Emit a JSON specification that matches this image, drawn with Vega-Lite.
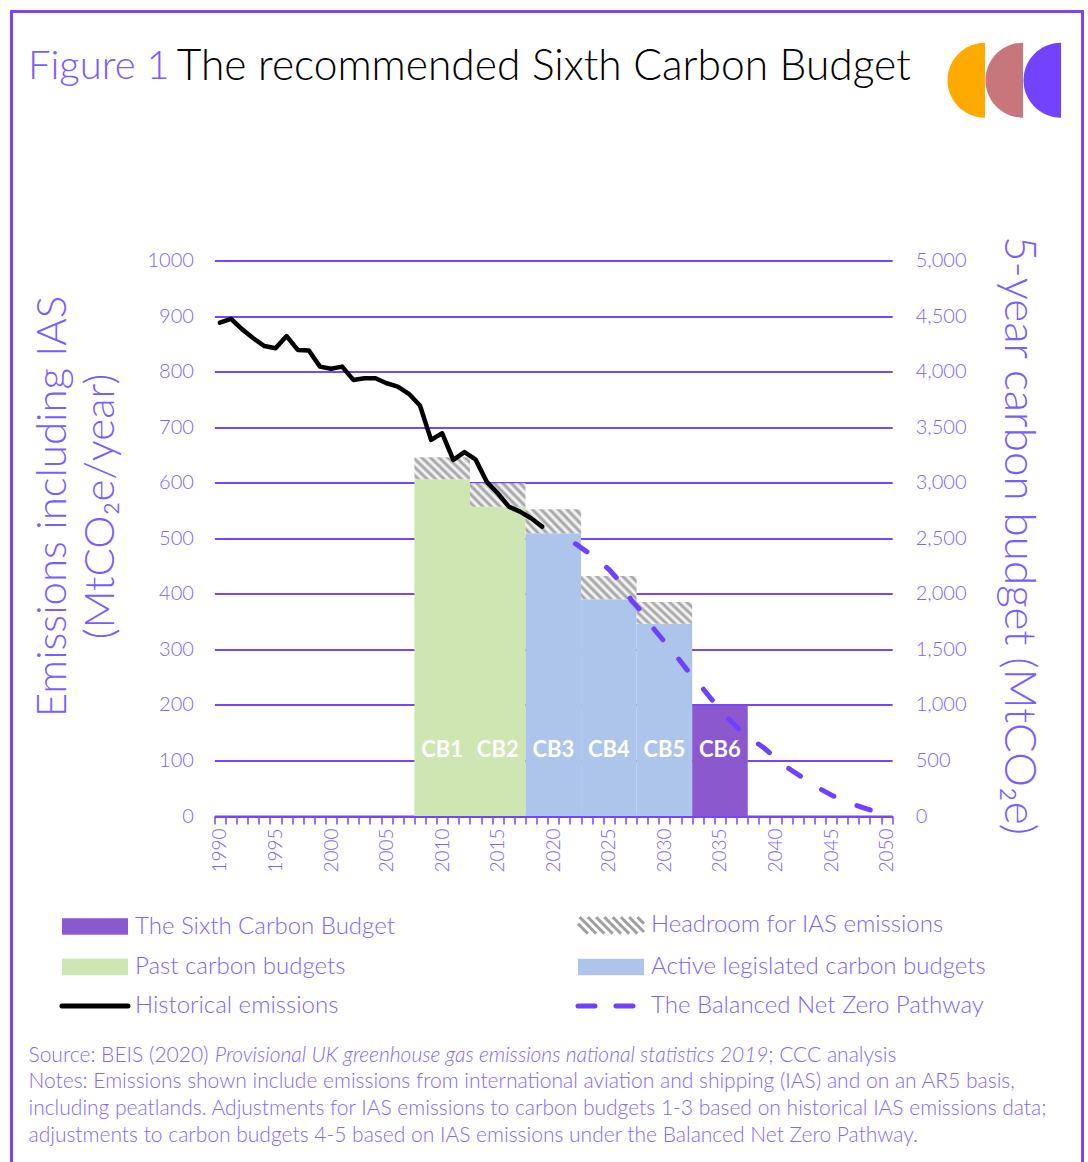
{
  "$schema": "https://vega.github.io/schema/vega-lite/v6.json",
  "width": 1071,
  "height": 1150.5,
  "autosize": {"type": "none"},
  "padding": {"left": 11.5, "top": 11.5, "right": 5.5, "bottom": 0},
  "background": "#ffffff",
  "title": {
    "text": "Figure 1",
    "subtitle": "\u200b\u00a0\u00a0\u00a0\u00a0\u00a0\u00a0\u00a0\u00a0\u00a0\u00a0\u00a0\u00a0\u00a0The recommended Sixth Carbon Budget",
    "anchor": "start",
    "frame": "group",
    "orient": "top",
    "offset": -78,
    "dx": 16.5,
    "baseline": "top",
    "font": "Lato",
    "fontSize": 40,
    "fontWeight": 300,
    "color": "#7B5CFF",
    "subtitleFont": "Lato",
    "subtitleFontSize": 42.5,
    "subtitleFontWeight": 300,
    "subtitleColor": "#000000",
    "subtitlePadding": -41
  },
  "datasets": {
    "budgets": [
      {"budget": "CB1", "series": "Past carbon budgets", "start": 2007.5, "end": 2012.5, "mid": 2010, "budget5yr": 3030, "withIAS": 3230},
      {"budget": "CB2", "series": "Past carbon budgets", "start": 2012.5, "end": 2017.5, "mid": 2015, "budget5yr": 2784, "withIAS": 2995},
      {"budget": "CB3", "series": "Active legislated carbon budgets", "start": 2017.5, "end": 2022.5, "mid": 2020, "budget5yr": 2544, "withIAS": 2760},
      {"budget": "CB4", "series": "Active legislated carbon budgets", "start": 2022.5, "end": 2027.5, "mid": 2025, "budget5yr": 1950, "withIAS": 2160},
      {"budget": "CB5", "series": "Active legislated carbon budgets", "start": 2027.5, "end": 2032.5, "mid": 2030, "budget5yr": 1730, "withIAS": 1926},
      {"budget": "CB6", "series": "The Sixth Carbon Budget", "start": 2032.5, "end": 2037.5, "mid": 2035, "budget5yr": 990, "withIAS": null}
    ],
    "emissions": [
      {"year": 1990, "value": 888, "series": "Historical emissions"},
      {"year": 1991, "value": 895, "series": "Historical emissions"},
      {"year": 1992, "value": 876, "series": "Historical emissions"},
      {"year": 1993, "value": 860, "series": "Historical emissions"},
      {"year": 1994, "value": 846, "series": "Historical emissions"},
      {"year": 1995, "value": 842, "series": "Historical emissions"},
      {"year": 1996, "value": 864, "series": "Historical emissions"},
      {"year": 1997, "value": 839, "series": "Historical emissions"},
      {"year": 1998, "value": 838, "series": "Historical emissions"},
      {"year": 1999, "value": 809, "series": "Historical emissions"},
      {"year": 2000, "value": 805, "series": "Historical emissions"},
      {"year": 2001, "value": 809, "series": "Historical emissions"},
      {"year": 2002, "value": 785, "series": "Historical emissions"},
      {"year": 2003, "value": 788, "series": "Historical emissions"},
      {"year": 2004, "value": 788, "series": "Historical emissions"},
      {"year": 2005, "value": 779, "series": "Historical emissions"},
      {"year": 2006, "value": 773, "series": "Historical emissions"},
      {"year": 2007, "value": 760, "series": "Historical emissions"},
      {"year": 2008, "value": 739, "series": "Historical emissions"},
      {"year": 2009, "value": 677, "series": "Historical emissions"},
      {"year": 2010, "value": 689, "series": "Historical emissions"},
      {"year": 2011, "value": 641, "series": "Historical emissions"},
      {"year": 2012, "value": 655, "series": "Historical emissions"},
      {"year": 2013, "value": 642, "series": "Historical emissions"},
      {"year": 2014, "value": 602, "series": "Historical emissions"},
      {"year": 2015, "value": 581, "series": "Historical emissions"},
      {"year": 2016, "value": 557, "series": "Historical emissions"},
      {"year": 2017, "value": 548, "series": "Historical emissions"},
      {"year": 2018, "value": 536, "series": "Historical emissions"},
      {"year": 2019, "value": 521, "series": "Historical emissions"}
    ],
    "pathway": [
      {"year": 2022, "value": 490, "series": "The Balanced Net Zero Pathway"},
      {"year": 2023, "value": 476, "series": "The Balanced Net Zero Pathway"},
      {"year": 2024, "value": 461, "series": "The Balanced Net Zero Pathway"},
      {"year": 2025, "value": 444, "series": "The Balanced Net Zero Pathway"},
      {"year": 2026, "value": 422, "series": "The Balanced Net Zero Pathway"},
      {"year": 2027, "value": 389, "series": "The Balanced Net Zero Pathway"},
      {"year": 2028, "value": 366, "series": "The Balanced Net Zero Pathway"},
      {"year": 2029, "value": 338, "series": "The Balanced Net Zero Pathway"},
      {"year": 2030, "value": 314, "series": "The Balanced Net Zero Pathway"},
      {"year": 2031, "value": 290, "series": "The Balanced Net Zero Pathway"},
      {"year": 2032, "value": 264, "series": "The Balanced Net Zero Pathway"},
      {"year": 2033, "value": 241, "series": "The Balanced Net Zero Pathway"},
      {"year": 2034, "value": 216, "series": "The Balanced Net Zero Pathway"},
      {"year": 2035, "value": 192, "series": "The Balanced Net Zero Pathway"},
      {"year": 2036, "value": 170, "series": "The Balanced Net Zero Pathway"},
      {"year": 2037, "value": 151, "series": "The Balanced Net Zero Pathway"},
      {"year": 2038, "value": 136, "series": "The Balanced Net Zero Pathway"},
      {"year": 2039, "value": 122, "series": "The Balanced Net Zero Pathway"},
      {"year": 2040, "value": 105, "series": "The Balanced Net Zero Pathway"},
      {"year": 2041, "value": 88, "series": "The Balanced Net Zero Pathway"},
      {"year": 2042, "value": 75, "series": "The Balanced Net Zero Pathway"},
      {"year": 2043, "value": 62, "series": "The Balanced Net Zero Pathway"},
      {"year": 2044, "value": 49, "series": "The Balanced Net Zero Pathway"},
      {"year": 2045, "value": 38, "series": "The Balanced Net Zero Pathway"},
      {"year": 2046, "value": 28, "series": "The Balanced Net Zero Pathway"},
      {"year": 2047, "value": 21, "series": "The Balanced Net Zero Pathway"},
      {"year": 2048, "value": 14, "series": "The Balanced Net Zero Pathway"},
      {"year": 2049, "value": 8, "series": "The Balanced Net Zero Pathway"},
      {"year": 2050, "value": 3, "series": "The Balanced Net Zero Pathway"}
    ],
    "logo": [{"logo": "a"}, {"logo": "b"}, {"logo": "c"}]
  },
  "layer": [
    {
      "layer": [
        {
          "data": {"name": "budgets"},
          "mark": {"type": "rect"},
          "encoding": {
            "x": {
              "field": "start", "type": "quantitative",
              "scale": {"domain": [1989.5, 2050.5], "range": [202.9, 880.7], "nice": false, "zero": false},
              "axis": {"orient": "bottom", "offset": -346, "values": [1989.5, 1990.5, 1991.5, 1992.5, 1993.5, 1994.5, 1995.5, 1996.5, 1997.5, 1998.5, 1999.5, 2000.5, 2001.5, 2002.5, 2003.5, 2004.5, 2005.5, 2006.5, 2007.5, 2008.5, 2009.5, 2010.5, 2011.5, 2012.5, 2013.5, 2014.5, 2015.5, 2016.5, 2017.5, 2018.5, 2019.5, 2020.5, 2021.5, 2022.5, 2023.5, 2024.5, 2025.5, 2026.5, 2027.5, 2028.5, 2029.5, 2030.5, 2031.5, 2032.5, 2033.5, 2034.5, 2035.5, 2036.5, 2037.5, 2038.5, 2039.5, 2040.5, 2041.5, 2042.5, 2043.5, 2044.5, 2045.5, 2046.5, 2047.5, 2048.5, 2049.5, 2050.5], "labelExpr": "(datum.value + 0.5) % 5 === 0 ? '' + (datum.value + 0.5) : ''", "labelOffset": 5.56, "labelAngle": 270, "labelAlign": "right", "labelBaseline": "middle", "labelOverlap": false, "labelFlush": false, "labelPadding": 4, "labelFontSize": 19, "labelColor": "#8063FF", "labelFont": "Lato", "labelFontWeight": 300, "grid": false, "domainColor": "#7744FF", "domainWidth": 2, "tickColor": "#7744FF", "tickWidth": 1.5, "tickSize": 8, "title": ["Source: BEIS (2020) \u2003\u2003\u2003\u2003\u2003\u2003\u2003\u2003\u2003\u2003\u2003\u2003\u2003\u2003\u2003\u2003\u2003\u2003\u2003\u2003\u2003\u2003\u2003\u2003\u2003\u2003\u2003\u2003\u2003\u2003\u2003\u2003\u2003\u00a0\u00a0\u00a0\u00a0\u00a0\u00a0; CCC analysis", "Notes: Emissions shown include emissions from international aviation and shipping (IAS) and on an AR5 basis,", "including peatlands. Adjustments for IAS emissions to carbon budgets 1-3 based on historical IAS emissions data;", "adjustments to carbon budgets 4-5 based on IAS emissions under the Balanced Net Zero Pathway."], "titleAnchor": "start", "titleAlign": "left", "titleX": 16.5, "titleY": 245, "titleBaseline": "alphabetic", "titleAngle": 0, "titleFont": "Lato", "titleFontSize": 21, "titleFontWeight": 300, "titleColor": "#8766FF", "titleLineHeight": 26.7}
            },
            "x2": {"field": "end"},
            "y": {
              "field": "budget5yr", "type": "quantitative",
              "scale": {"domain": [0, 5000], "range": [804.5, 249], "nice": false, "zero": true},
              "axis": {"orient": "right", "offset": -190.3, "values": [0, 500, 1000, 1500, 2000, 2500, 3000, 3500, 4000, 4500, 5000], "format": ",d", "grid": false, "domain": false, "ticks": false, "labelPadding": 23, "labelFontSize": 20, "labelColor": "#8063FF", "labelFont": "Lato", "labelFontWeight": 300, "title": "5-year carbon budget (MtCO\u2082e)", "titleAngle": 90, "titleX": 124.8, "titleY": 523.5, "titleBaseline": "middle", "titleAlign": "center", "titleFont": "Lato", "titleFontSize": 44, "titleFontWeight": 300, "titleColor": "#7B5CFF"}
            },
            "y2": {"datum": 0},
            "color": {
              "field": "series", "type": "nominal",
              "scale": {
                "domain": ["The Sixth Carbon Budget", "Past carbon budgets", "Historical emissions", "Headroom for IAS emissions", "Active legislated carbon budgets", "The Balanced Net Zero Pathway"],
                "range": ["#8C58CE", "#CDE6B2", "#000000", "#A0A0A0", "#ADC5EA", "#7040FF"]
              },
              "legend": {
                "orient": "none", "legendX": 71.5, "legendY": 901.5, "columns": 2, "padding": 0,
                "title": "\u200b\u2003\u2003\u2003\u2003\u2003\u2003\u2003\u2003\u00a0\u00a0\u00a0Provisional UK greenhouse gas emissions national statistics 2019",
                "titleOrient": "bottom", "titleAnchor": "start", "titleAlign": "left", "titlePadding": 27, "titleLimit": 2000,
                "titleFont": "Lato", "titleFontSize": 21, "titleFontWeight": 300, "titleFontStyle": "italic", "titleColor": "#8766FF",
                "labelFont": "Lato", "labelFontSize": 24, "labelFontWeight": 300, "labelColor": "#8063FF",
                "labelLimit": 600, "labelOffset": 28, "symbolSize": 400, "rowPadding": 15, "columnPadding": 173,
                "gridAlign": "each", "symbolOpacity": 1,
                "encode": {
                  "symbols": {
                    "update": {
                      "shape": {"signal": "(datum.value === 'Historical emissions' || datum.value === 'The Balanced Net Zero Pathway') ? 'M-3.3,0H3.3' : datum.value === 'Headroom for IAS emissions' ? 'M-3.3,-0.165L-2.31,0.825M-3.135,-0.825L-1.485,0.825M-2.31,-0.825L-0.66,0.825M-1.485,-0.825L0.165,0.825M-0.66,-0.825L0.99,0.825M0.165,-0.825L1.815,0.825M0.99,-0.825L2.64,0.825M1.815,-0.825L3.3,0.66M2.64,-0.825L3.3,-0.165' : 'M-3.3,-0.825H3.3V0.825H-3.3Z'"},
                      "size": {"value": 400},
                      "strokeWidth": {"signal": "(datum.value === 'Historical emissions' || datum.value === 'The Balanced Net Zero Pathway') ? 5 : datum.value === 'Headroom for IAS emissions' ? 3 : 0"},
                      "strokeDash": {"signal": "datum.value === 'The Balanced Net Zero Pathway' ? [17, 21] : [1, 0]"},
                      "strokeCap": {"signal": "(datum.value === 'Historical emissions' || datum.value === 'The Balanced Net Zero Pathway') ? 'round' : 'butt'"},
                      "opacity": {"value": 1}
                    }
                  }
                }
              }
            }
          }
        },
        {
          "data": {"name": "budgets"},
          "transform": [{"filter": "isValid(datum.withIAS)"}],
          "mark": {"type": "rect", "fill": {"gradient": "linear", "x1": 0, "y1": 1, "x2": 2.4, "y2": 0, "stops": [{"offset": 0, "color": "#ffffff"}, {"offset": 0.0275, "color": "#9c9c9c"}, {"offset": 0.055, "color": "#ffffff"}, {"offset": 0.0825, "color": "#9c9c9c"}, {"offset": 0.11, "color": "#ffffff"}, {"offset": 0.1375, "color": "#9c9c9c"}, {"offset": 0.165, "color": "#ffffff"}, {"offset": 0.1925, "color": "#9c9c9c"}, {"offset": 0.22, "color": "#ffffff"}, {"offset": 0.2475, "color": "#9c9c9c"}, {"offset": 0.275, "color": "#ffffff"}, {"offset": 0.3025, "color": "#9c9c9c"}, {"offset": 0.33, "color": "#ffffff"}, {"offset": 0.3575, "color": "#9c9c9c"}, {"offset": 0.385, "color": "#ffffff"}, {"offset": 0.4125, "color": "#9c9c9c"}, {"offset": 0.44, "color": "#ffffff"}, {"offset": 0.4675, "color": "#9c9c9c"}, {"offset": 0.495, "color": "#ffffff"}, {"offset": 0.5225, "color": "#9c9c9c"}, {"offset": 0.55, "color": "#ffffff"}, {"offset": 0.5775, "color": "#9c9c9c"}, {"offset": 0.605, "color": "#ffffff"}, {"offset": 0.6325, "color": "#9c9c9c"}, {"offset": 0.66, "color": "#ffffff"}]}},
          "encoding": {
            "x": {
              "field": "start", "type": "quantitative",
              "scale": {"domain": [1989.5, 2050.5], "range": [202.9, 880.7], "nice": false, "zero": false},
              "axis": {"orient": "bottom", "offset": -346, "values": [1989.5, 1990.5, 1991.5, 1992.5, 1993.5, 1994.5, 1995.5, 1996.5, 1997.5, 1998.5, 1999.5, 2000.5, 2001.5, 2002.5, 2003.5, 2004.5, 2005.5, 2006.5, 2007.5, 2008.5, 2009.5, 2010.5, 2011.5, 2012.5, 2013.5, 2014.5, 2015.5, 2016.5, 2017.5, 2018.5, 2019.5, 2020.5, 2021.5, 2022.5, 2023.5, 2024.5, 2025.5, 2026.5, 2027.5, 2028.5, 2029.5, 2030.5, 2031.5, 2032.5, 2033.5, 2034.5, 2035.5, 2036.5, 2037.5, 2038.5, 2039.5, 2040.5, 2041.5, 2042.5, 2043.5, 2044.5, 2045.5, 2046.5, 2047.5, 2048.5, 2049.5, 2050.5], "labelExpr": "(datum.value + 0.5) % 5 === 0 ? '' + (datum.value + 0.5) : ''", "labelOffset": 5.56, "labelAngle": 270, "labelAlign": "right", "labelBaseline": "middle", "labelOverlap": false, "labelFlush": false, "labelPadding": 4, "labelFontSize": 19, "labelColor": "#8063FF", "labelFont": "Lato", "labelFontWeight": 300, "grid": false, "domainColor": "#7744FF", "domainWidth": 2, "tickColor": "#7744FF", "tickWidth": 1.5, "tickSize": 8, "title": ["Source: BEIS (2020) \u2003\u2003\u2003\u2003\u2003\u2003\u2003\u2003\u2003\u2003\u2003\u2003\u2003\u2003\u2003\u2003\u2003\u2003\u2003\u2003\u2003\u2003\u2003\u2003\u2003\u2003\u2003\u2003\u2003\u2003\u2003\u2003\u2003\u00a0\u00a0\u00a0\u00a0\u00a0\u00a0; CCC analysis", "Notes: Emissions shown include emissions from international aviation and shipping (IAS) and on an AR5 basis,", "including peatlands. Adjustments for IAS emissions to carbon budgets 1-3 based on historical IAS emissions data;", "adjustments to carbon budgets 4-5 based on IAS emissions under the Balanced Net Zero Pathway."], "titleAnchor": "start", "titleAlign": "left", "titleX": 16.5, "titleY": 245, "titleBaseline": "alphabetic", "titleAngle": 0, "titleFont": "Lato", "titleFontSize": 21, "titleFontWeight": 300, "titleColor": "#8766FF", "titleLineHeight": 26.7}
            },
            "x2": {"field": "end"},
            "y": {
              "field": "budget5yr", "type": "quantitative",
              "scale": {"domain": [0, 5000], "range": [804.5, 249], "nice": false, "zero": true},
              "axis": {"orient": "right", "offset": -190.3, "values": [0, 500, 1000, 1500, 2000, 2500, 3000, 3500, 4000, 4500, 5000], "format": ",d", "grid": false, "domain": false, "ticks": false, "labelPadding": 23, "labelFontSize": 20, "labelColor": "#8063FF", "labelFont": "Lato", "labelFontWeight": 300, "title": "5-year carbon budget (MtCO\u2082e)", "titleAngle": 90, "titleX": 124.8, "titleY": 523.5, "titleBaseline": "middle", "titleAlign": "center", "titleFont": "Lato", "titleFontSize": 44, "titleFontWeight": 300, "titleColor": "#7B5CFF"}
            },
            "y2": {"field": "withIAS"}
          }
        },
        {
          "data": {"name": "budgets"},
          "mark": {"type": "text", "color": "#ffffff", "font": "Lato", "fontSize": 22, "fontWeight": "bold", "baseline": "middle", "align": "center"},
          "encoding": {
            "x": {
              "field": "mid", "type": "quantitative",
              "scale": {"domain": [1989.5, 2050.5], "range": [202.9, 880.7], "nice": false, "zero": false},
              "axis": {"orient": "bottom", "offset": -346, "values": [1989.5, 1990.5, 1991.5, 1992.5, 1993.5, 1994.5, 1995.5, 1996.5, 1997.5, 1998.5, 1999.5, 2000.5, 2001.5, 2002.5, 2003.5, 2004.5, 2005.5, 2006.5, 2007.5, 2008.5, 2009.5, 2010.5, 2011.5, 2012.5, 2013.5, 2014.5, 2015.5, 2016.5, 2017.5, 2018.5, 2019.5, 2020.5, 2021.5, 2022.5, 2023.5, 2024.5, 2025.5, 2026.5, 2027.5, 2028.5, 2029.5, 2030.5, 2031.5, 2032.5, 2033.5, 2034.5, 2035.5, 2036.5, 2037.5, 2038.5, 2039.5, 2040.5, 2041.5, 2042.5, 2043.5, 2044.5, 2045.5, 2046.5, 2047.5, 2048.5, 2049.5, 2050.5], "labelExpr": "(datum.value + 0.5) % 5 === 0 ? '' + (datum.value + 0.5) : ''", "labelOffset": 5.56, "labelAngle": 270, "labelAlign": "right", "labelBaseline": "middle", "labelOverlap": false, "labelFlush": false, "labelPadding": 4, "labelFontSize": 19, "labelColor": "#8063FF", "labelFont": "Lato", "labelFontWeight": 300, "grid": false, "domainColor": "#7744FF", "domainWidth": 2, "tickColor": "#7744FF", "tickWidth": 1.5, "tickSize": 8, "title": ["Source: BEIS (2020) \u2003\u2003\u2003\u2003\u2003\u2003\u2003\u2003\u2003\u2003\u2003\u2003\u2003\u2003\u2003\u2003\u2003\u2003\u2003\u2003\u2003\u2003\u2003\u2003\u2003\u2003\u2003\u2003\u2003\u2003\u2003\u2003\u2003\u00a0\u00a0\u00a0\u00a0\u00a0\u00a0; CCC analysis", "Notes: Emissions shown include emissions from international aviation and shipping (IAS) and on an AR5 basis,", "including peatlands. Adjustments for IAS emissions to carbon budgets 1-3 based on historical IAS emissions data;", "adjustments to carbon budgets 4-5 based on IAS emissions under the Balanced Net Zero Pathway."], "titleAnchor": "start", "titleAlign": "left", "titleX": 16.5, "titleY": 245, "titleBaseline": "alphabetic", "titleAngle": 0, "titleFont": "Lato", "titleFontSize": 21, "titleFontWeight": 300, "titleColor": "#8766FF", "titleLineHeight": 26.7}
            },
            "y": {
              "datum": 595, "type": "quantitative",
              "scale": {"domain": [0, 5000], "range": [804.5, 249], "nice": false, "zero": true},
              "axis": {"orient": "right", "offset": -190.3, "values": [0, 500, 1000, 1500, 2000, 2500, 3000, 3500, 4000, 4500, 5000], "format": ",d", "grid": false, "domain": false, "ticks": false, "labelPadding": 23, "labelFontSize": 20, "labelColor": "#8063FF", "labelFont": "Lato", "labelFontWeight": 300, "title": "5-year carbon budget (MtCO\u2082e)", "titleAngle": 90, "titleX": 124.8, "titleY": 523.5, "titleBaseline": "middle", "titleAlign": "center", "titleFont": "Lato", "titleFontSize": 44, "titleFontWeight": 300, "titleColor": "#7B5CFF"}
            },
            "text": {"field": "budget"}
          }
        }
      ]
    },
    {
      "layer": [
        {
          "data": {"name": "emissions"},
          "mark": {"type": "line", "strokeWidth": 4.5, "strokeJoin": "round", "strokeCap": "round"},
          "encoding": {
            "x": {
              "field": "year", "type": "quantitative",
              "scale": {"domain": [1989.5, 2050.5], "range": [202.9, 880.7], "nice": false, "zero": false},
              "axis": {"orient": "bottom", "offset": -346, "values": [1989.5, 1990.5, 1991.5, 1992.5, 1993.5, 1994.5, 1995.5, 1996.5, 1997.5, 1998.5, 1999.5, 2000.5, 2001.5, 2002.5, 2003.5, 2004.5, 2005.5, 2006.5, 2007.5, 2008.5, 2009.5, 2010.5, 2011.5, 2012.5, 2013.5, 2014.5, 2015.5, 2016.5, 2017.5, 2018.5, 2019.5, 2020.5, 2021.5, 2022.5, 2023.5, 2024.5, 2025.5, 2026.5, 2027.5, 2028.5, 2029.5, 2030.5, 2031.5, 2032.5, 2033.5, 2034.5, 2035.5, 2036.5, 2037.5, 2038.5, 2039.5, 2040.5, 2041.5, 2042.5, 2043.5, 2044.5, 2045.5, 2046.5, 2047.5, 2048.5, 2049.5, 2050.5], "labelExpr": "(datum.value + 0.5) % 5 === 0 ? '' + (datum.value + 0.5) : ''", "labelOffset": 5.56, "labelAngle": 270, "labelAlign": "right", "labelBaseline": "middle", "labelOverlap": false, "labelFlush": false, "labelPadding": 4, "labelFontSize": 19, "labelColor": "#8063FF", "labelFont": "Lato", "labelFontWeight": 300, "grid": false, "domainColor": "#7744FF", "domainWidth": 2, "tickColor": "#7744FF", "tickWidth": 1.5, "tickSize": 8, "title": ["Source: BEIS (2020) \u2003\u2003\u2003\u2003\u2003\u2003\u2003\u2003\u2003\u2003\u2003\u2003\u2003\u2003\u2003\u2003\u2003\u2003\u2003\u2003\u2003\u2003\u2003\u2003\u2003\u2003\u2003\u2003\u2003\u2003\u2003\u2003\u2003\u00a0\u00a0\u00a0\u00a0\u00a0\u00a0; CCC analysis", "Notes: Emissions shown include emissions from international aviation and shipping (IAS) and on an AR5 basis,", "including peatlands. Adjustments for IAS emissions to carbon budgets 1-3 based on historical IAS emissions data;", "adjustments to carbon budgets 4-5 based on IAS emissions under the Balanced Net Zero Pathway."], "titleAnchor": "start", "titleAlign": "left", "titleX": 16.5, "titleY": 245, "titleBaseline": "alphabetic", "titleAngle": 0, "titleFont": "Lato", "titleFontSize": 21, "titleFontWeight": 300, "titleColor": "#8766FF", "titleLineHeight": 26.7}
            },
            "y": {
              "field": "value", "type": "quantitative",
              "scale": {"domain": [0, 1000], "range": [804.5, 249], "nice": false, "zero": true},
              "axis": {"orient": "left", "offset": -202.9, "values": [0, 100, 200, 300, 400, 500, 600, 700, 800, 900, 1000], "format": "d", "grid": true, "gridColor": "#7744FF", "gridWidth": 2, "domain": false, "ticks": false, "labelPadding": 21, "labelFontSize": 20, "labelColor": "#8063FF", "labelFont": "Lato", "labelFontWeight": 300, "title": ["Emissions including IAS", "(MtCO\u2082e/year)"], "titleAngle": 270, "titleX": -162.4, "titleY": 494.5, "titleBaseline": "middle", "titleAlign": "center", "titleLineHeight": 48, "titleFont": "Lato", "titleFontSize": 42, "titleFontWeight": 300, "titleColor": "#7B5CFF"}
            },
            "color": {
              "field": "series", "type": "nominal",
              "scale": {
                "domain": ["The Sixth Carbon Budget", "Past carbon budgets", "Historical emissions", "Headroom for IAS emissions", "Active legislated carbon budgets", "The Balanced Net Zero Pathway"],
                "range": ["#8C58CE", "#CDE6B2", "#000000", "#A0A0A0", "#ADC5EA", "#7040FF"]
              }
            }
          }
        },
        {
          "data": {"name": "pathway"},
          "mark": {"type": "line", "strokeWidth": 5, "strokeDash": [14, 25], "strokeCap": "round"},
          "encoding": {
            "x": {
              "field": "year", "type": "quantitative",
              "scale": {"domain": [1989.5, 2050.5], "range": [202.9, 880.7], "nice": false, "zero": false},
              "axis": {"orient": "bottom", "offset": -346, "values": [1989.5, 1990.5, 1991.5, 1992.5, 1993.5, 1994.5, 1995.5, 1996.5, 1997.5, 1998.5, 1999.5, 2000.5, 2001.5, 2002.5, 2003.5, 2004.5, 2005.5, 2006.5, 2007.5, 2008.5, 2009.5, 2010.5, 2011.5, 2012.5, 2013.5, 2014.5, 2015.5, 2016.5, 2017.5, 2018.5, 2019.5, 2020.5, 2021.5, 2022.5, 2023.5, 2024.5, 2025.5, 2026.5, 2027.5, 2028.5, 2029.5, 2030.5, 2031.5, 2032.5, 2033.5, 2034.5, 2035.5, 2036.5, 2037.5, 2038.5, 2039.5, 2040.5, 2041.5, 2042.5, 2043.5, 2044.5, 2045.5, 2046.5, 2047.5, 2048.5, 2049.5, 2050.5], "labelExpr": "(datum.value + 0.5) % 5 === 0 ? '' + (datum.value + 0.5) : ''", "labelOffset": 5.56, "labelAngle": 270, "labelAlign": "right", "labelBaseline": "middle", "labelOverlap": false, "labelFlush": false, "labelPadding": 4, "labelFontSize": 19, "labelColor": "#8063FF", "labelFont": "Lato", "labelFontWeight": 300, "grid": false, "domainColor": "#7744FF", "domainWidth": 2, "tickColor": "#7744FF", "tickWidth": 1.5, "tickSize": 8, "title": ["Source: BEIS (2020) \u2003\u2003\u2003\u2003\u2003\u2003\u2003\u2003\u2003\u2003\u2003\u2003\u2003\u2003\u2003\u2003\u2003\u2003\u2003\u2003\u2003\u2003\u2003\u2003\u2003\u2003\u2003\u2003\u2003\u2003\u2003\u2003\u2003\u00a0\u00a0\u00a0\u00a0\u00a0\u00a0; CCC analysis", "Notes: Emissions shown include emissions from international aviation and shipping (IAS) and on an AR5 basis,", "including peatlands. Adjustments for IAS emissions to carbon budgets 1-3 based on historical IAS emissions data;", "adjustments to carbon budgets 4-5 based on IAS emissions under the Balanced Net Zero Pathway."], "titleAnchor": "start", "titleAlign": "left", "titleX": 16.5, "titleY": 245, "titleBaseline": "alphabetic", "titleAngle": 0, "titleFont": "Lato", "titleFontSize": 21, "titleFontWeight": 300, "titleColor": "#8766FF", "titleLineHeight": 26.7}
            },
            "y": {
              "field": "value", "type": "quantitative",
              "scale": {"domain": [0, 1000], "range": [804.5, 249], "nice": false, "zero": true},
              "axis": {"orient": "left", "offset": -202.9, "values": [0, 100, 200, 300, 400, 500, 600, 700, 800, 900, 1000], "format": "d", "grid": true, "gridColor": "#7744FF", "gridWidth": 2, "domain": false, "ticks": false, "labelPadding": 21, "labelFontSize": 20, "labelColor": "#8063FF", "labelFont": "Lato", "labelFontWeight": 300, "title": ["Emissions including IAS", "(MtCO\u2082e/year)"], "titleAngle": 270, "titleX": -162.4, "titleY": 494.5, "titleBaseline": "middle", "titleAlign": "center", "titleLineHeight": 48, "titleFont": "Lato", "titleFontSize": 42, "titleFontWeight": 300, "titleColor": "#7B5CFF"}
            },
            "color": {
              "field": "series", "type": "nominal",
              "scale": {
                "domain": ["The Sixth Carbon Budget", "Past carbon budgets", "Historical emissions", "Headroom for IAS emissions", "Active legislated carbon budgets", "The Balanced Net Zero Pathway"],
                "range": ["#8C58CE", "#CDE6B2", "#000000", "#A0A0A0", "#ADC5EA", "#7040FF"]
              }
            }
          }
        },
        {
          "data": {"name": "logo"},
          "mark": {"type": "point", "opacity": 0, "filled": true},
          "encoding": {
            "fill": {
              "field": "logo", "type": "nominal",
              "scale": {"domain": ["a", "b", "c"], "range": ["#FFAA00", "#C7777C", "#7143FF"]},
              "legend": {
                "orient": "none", "legendX": 954.5, "legendY": 49.5, "direction": "horizontal", "title": null,
                "symbolType": "M0,-2A2,2,0,0,0,0,2Z", "symbolSize": 1406, "symbolOpacity": 1, "symbolStrokeWidth": 0,
                "labelExpr": "''", "labelOffset": 0, "columnPadding": -23, "padding": 0,
                "encode": {
                  "symbols": {
                    "update": {
                      "opacity": {"value": 1},
                      "fillOpacity": {"value": 1},
                      "strokeWidth": {"value": 0}
                    }
                  }
                }
              }
            }
          }
        }
      ]
    }
  ],
  "resolve": {"scale": {"y": "independent"}},
  "config": {
    "view": {"stroke": "#7744FF", "strokeWidth": 3, "strokeDash": [2221.5, 1071, 1150.5]},
    "font": "Lato"
  }
}
